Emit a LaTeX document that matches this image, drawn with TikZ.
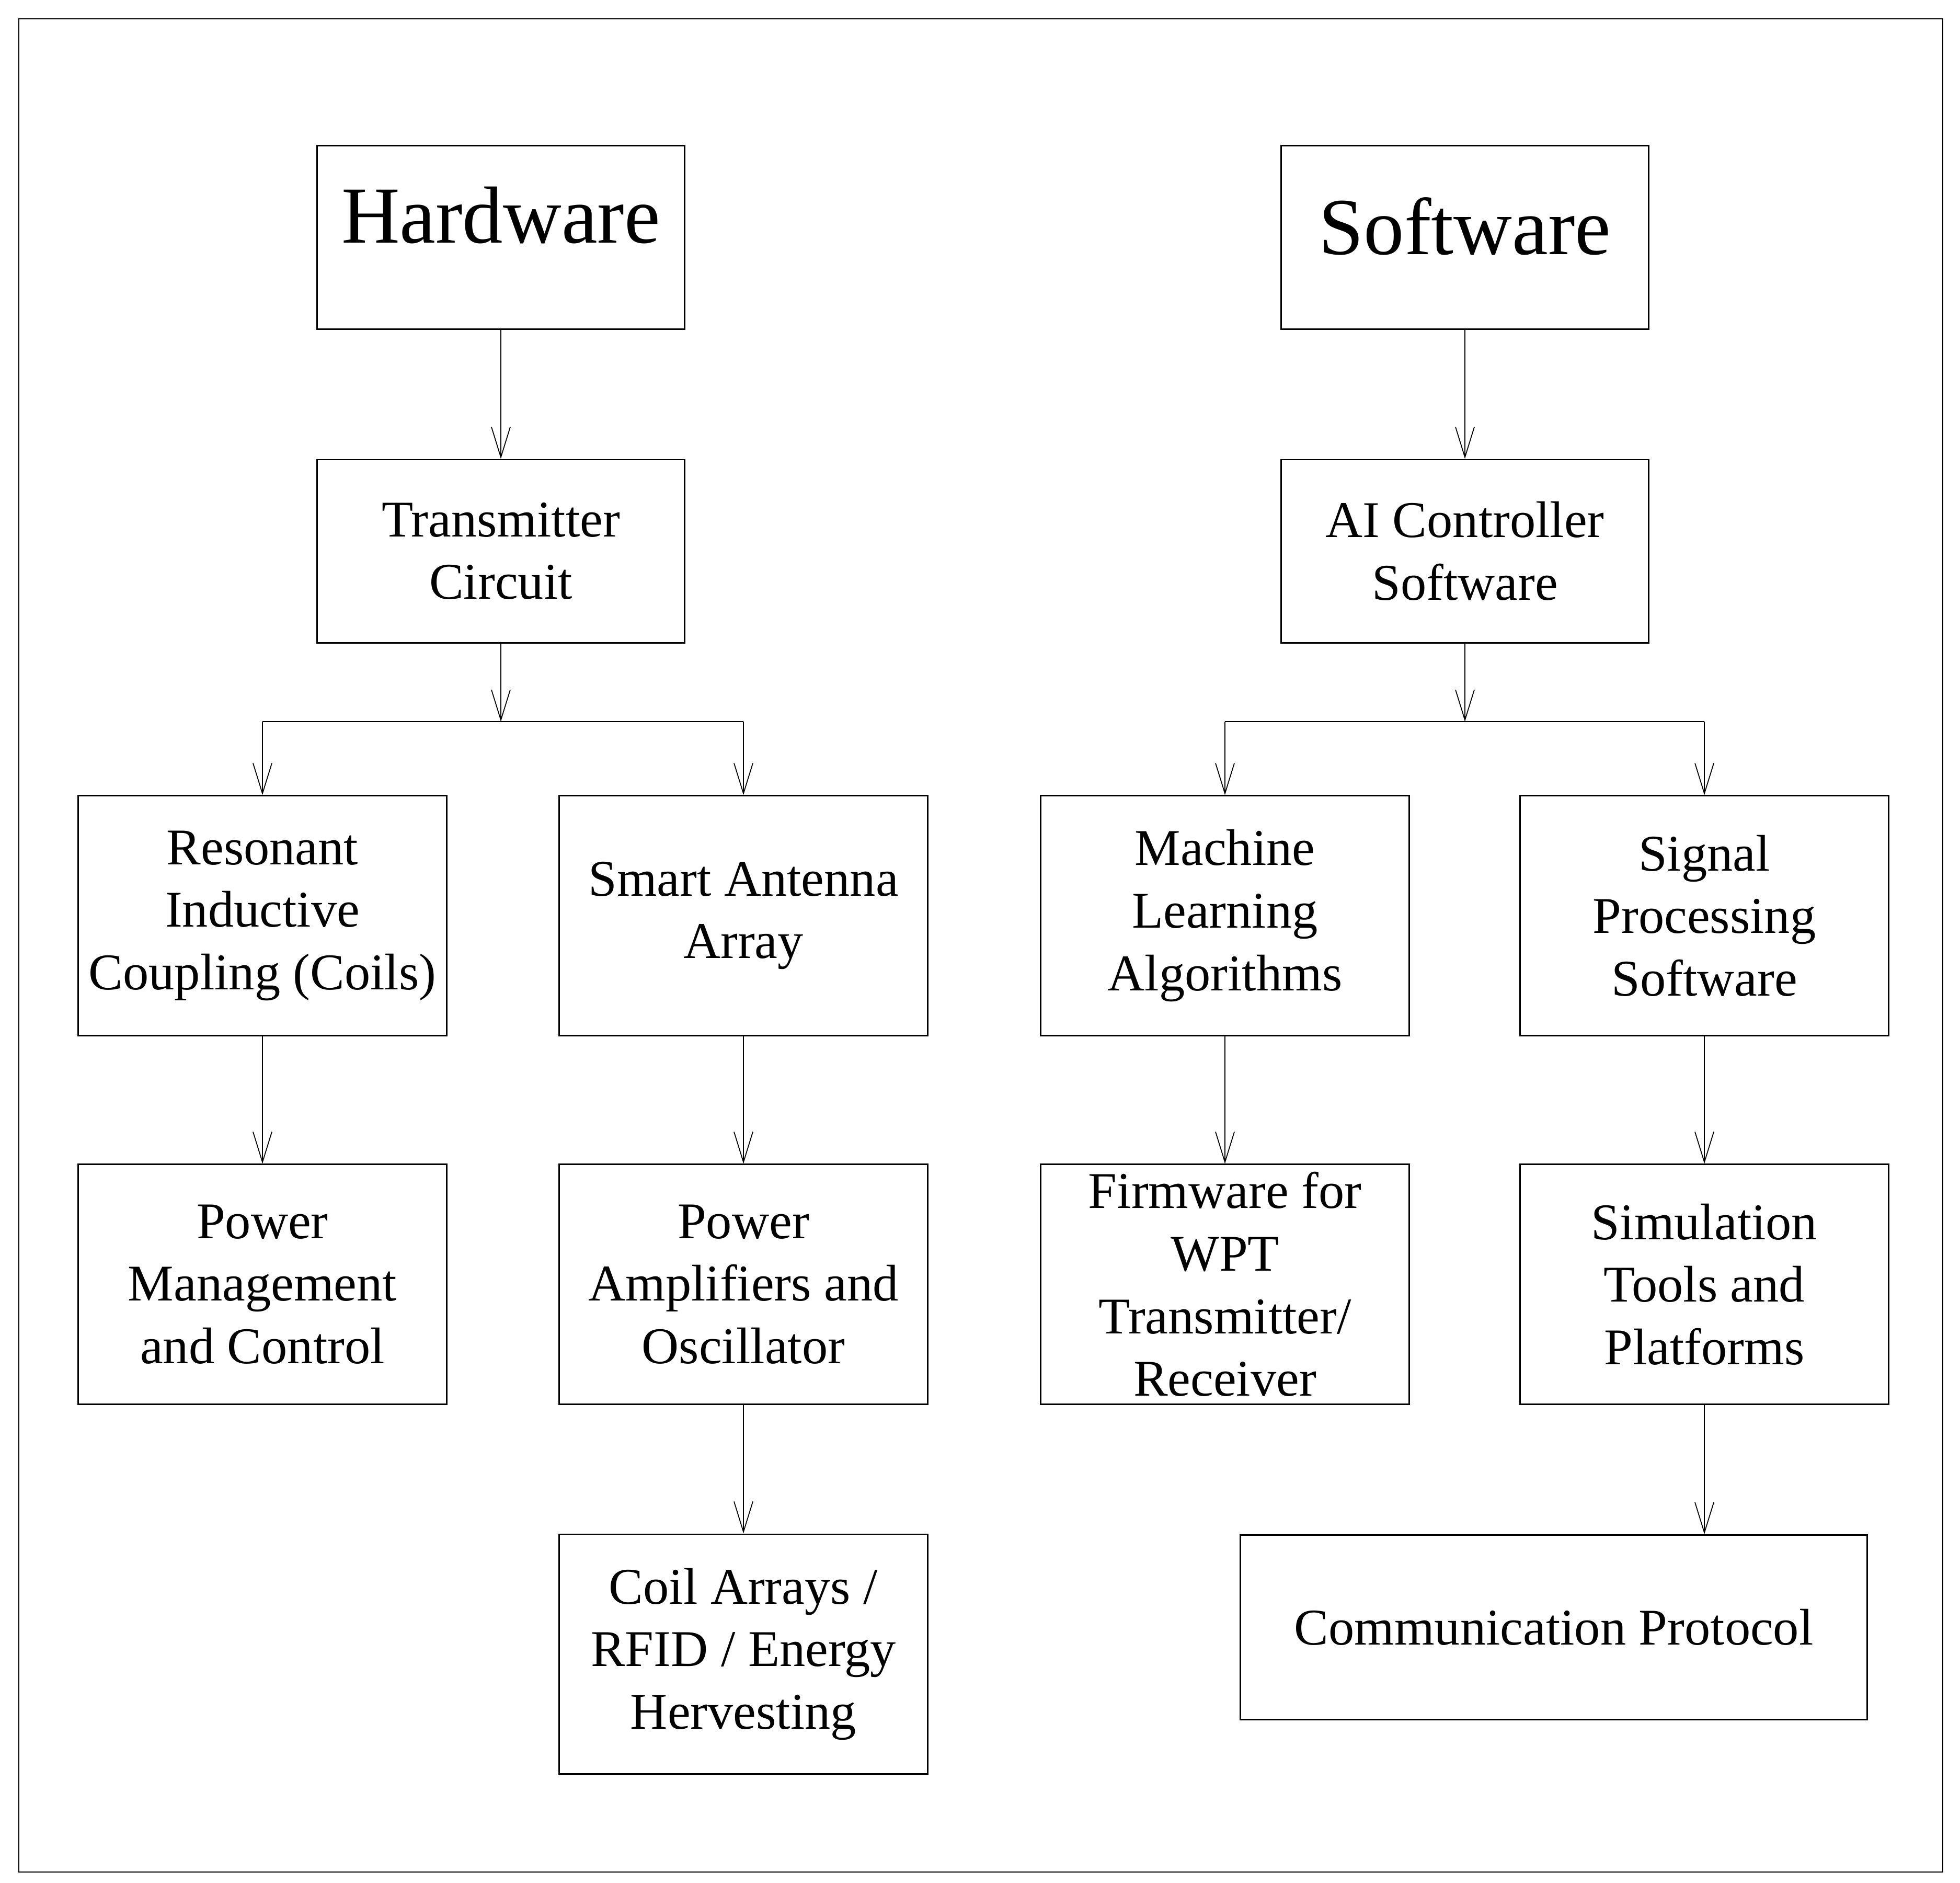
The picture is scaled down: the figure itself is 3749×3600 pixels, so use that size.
\documentclass[tikz,border=0pt]{standalone}
\usepackage{fontspec}
\setmainfont{Liberation Serif}
\usetikzlibrary{arrows.meta}
\tikzset{
block/.style={draw=black,line width=0.8pt,rectangle,inner sep=0pt,align=center,
  minimum width=7.05cm,minimum height=4.58cm,font=\fontsize{28}{34}\selectfont},
head/.style={block,minimum width=7.03cm,minimum height=3.5cm},
title/.style={head,font=\fontsize{44}{50}\selectfont},
link/.style={line width=0.5pt,-{Straight Barb[length=0.58cm,width=0.36cm,line width=0.5pt]}},
bus/.style={line width=0.8pt},
}
\begin{document}
\begin{tikzpicture}[x=0.01cm,y=-0.01cm]
\useasboundingbox (0,0) rectangle (3749,3600);
\draw[line width=0.8pt] (36,36) rectangle (3716,3580);
% hardware side
\node[title,text depth=0.86cm] (hw) at (958,454) {Hardware};
\node[head] (tx) at (958,1054) {Transmitter\\Circuit};
\node[block] (ric) at (502,1751) {Resonant\\Inductive\\Coupling (Coils)};
\node[block] (saa) at (1422,1751) {Smart Antenna\\Array};
\node[block] (pmc) at (502,2456) {Power\\Management\\and Control};
\node[block] (pao) at (1422,2456) {Power\\Amplifiers and\\Oscillator};
\node[block] (coil) at (1422,3163) {Coil Arrays /\\RFID / Energy\\Hervesting};
% software side
\node[title,text depth=0.44cm] (sw) at (2802,454) {Software};
\node[head] (ai) at (2802,1054) {AI Controller\\Software};
\node[block] (ml) at (2343,1751) {Machine\\Learning\\Algorithms};
\node[block] (sp) at (3260,1751) {Signal\\Processing\\Software};
\node[block] (fw) at (2343,2456) {Firmware for\\WPT\\Transmitter/\\Receiver};
\node[block] (sim) at (3260,2456) {Simulation\\Tools and\\Platforms};
\node[block,minimum width=11.98cm,minimum height=3.53cm] (cp) at (2972,3112) {Communication Protocol};
% connectors
\coordinate (hwbus) at (958,1380);
\coordinate (swbus) at (2802,1380);
\draw[link] (hw) -- (tx);
\draw[link] (sw) -- (ai);
\draw[link] (tx.south) -- (hwbus);
\draw[link] (ai.south) -- (swbus);
\draw[bus] (ric.north |- hwbus) -- (saa.north |- hwbus);
\draw[bus] (ml.north |- swbus) -- (sp.north |- swbus);
\draw[link] (ric.north |- hwbus) -- (ric.north);
\draw[link] (saa.north |- hwbus) -- (saa.north);
\draw[link] (ml.north |- swbus) -- (ml.north);
\draw[link] (sp.north |- swbus) -- (sp.north);
\draw[link] (ric) -- (pmc);
\draw[link] (saa) -- (pao);
\draw[link] (pao) -- (coil);
\draw[link] (ml) -- (fw);
\draw[link] (sp) -- (sim);
\draw[link] (sim.south) -- (sim.south |- cp.north);
\end{tikzpicture}
\end{document}
